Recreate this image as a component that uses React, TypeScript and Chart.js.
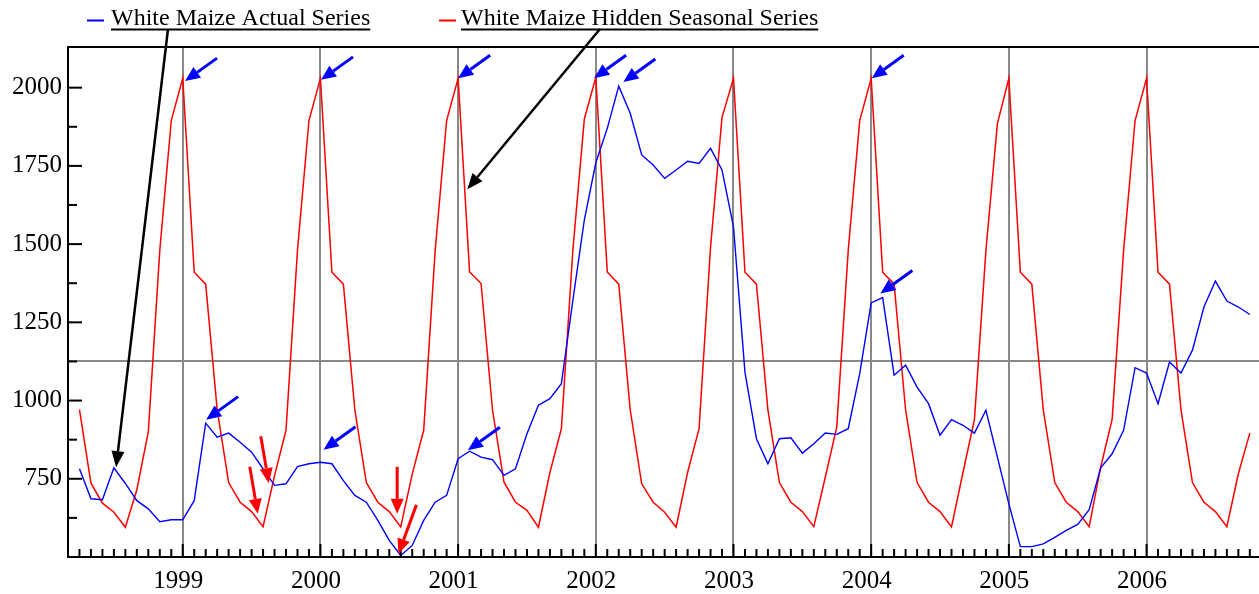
import React, { useEffect, useRef } from 'react';
import { Chart, registerables } from 'chart.js';

Chart.register(...registerables);

// Monthly observations: index 0 = April 1998, last = October 2006
const JAN_1999_INDEX = 9;

const actualSeries: number[] = [
  // 1998 Apr–Dec
  782, 686, 683, 785, 735, 680, 654, 613, 619,
  // 1999
  619, 680, 928, 883, 896, 867, 835, 782, 729, 734, 789, 798,
  // 2000
  803, 798, 744, 697, 675, 617, 553, 505, 537, 617, 675, 697,
  // 2001
  814, 838, 819, 811, 761, 782, 894, 985, 1006, 1054, 1320, 1577,
  // 2002
  1760, 1870, 2005, 1918, 1785, 1753, 1710, 1737, 1765, 1758, 1806, 1737,
  // 2003
  1555, 1090, 878, 798, 878, 881, 832, 862, 896, 892, 910, 1086,
  // 2004
  1312, 1329, 1081, 1113, 1043, 990, 889, 939, 921, 896, 969, 819,
  // 2005
  670, 533, 533, 542, 563, 585, 604, 651, 785, 830, 905, 1105,
  // 2006 Jan–Oct
  1088, 990, 1123, 1088, 1161, 1299, 1382, 1318, 1299, 1275,
];

const seasonalSeries: number[] = [
  // 1998 Apr–Dec
  971, 736, 672, 643, 595, 715, 900, 1480, 1895,
  // 1999
  2030, 1410, 1372, 972, 738, 675, 645, 597, 760, 905, 1480, 1895,
  // 2000
  2030, 1410, 1372, 970, 738, 675, 645, 596, 765, 905, 1480, 1895,
  // 2001
  2030, 1411, 1374, 969, 739, 675, 649, 595, 770, 910, 1480, 1900,
  // 2002
  2032, 1411, 1372, 970, 734, 675, 643, 595, 770, 910, 1490, 1905,
  // 2003
  2030, 1410, 1372, 970, 738, 675, 645, 597, 755, 915, 1480, 1895,
  // 2004
  2030, 1410, 1372, 970, 738, 675, 645, 596, 770, 940, 1480, 1885,
  // 2005
  2030, 1410, 1372, 970, 738, 675, 645, 597, 787, 940, 1480, 1895,
  // 2006 Jan–Oct
  2030, 1410, 1372, 970, 738, 675, 645, 597, 766, 896,
];

const yearLabels = ['1999', '2000', '2001', '2002', '2003', '2004', '2005', '2006'];
const yTickValues = [625, 750, 875, 1000, 1125, 1250, 1375, 1500, 1625, 1750, 1875, 2000];
const yLabelValues = [750, 1000, 1250, 1500, 1750, 2000];
const referenceLevel = 1125;

const legendItems = [
  { text: 'White Maize Actual Series', color: '#0000ff', lineX: 87, textX: 111 },
  { text: 'White Maize Hidden Seasonal Series', color: '#ff0000', lineX: 439, textX: 461 },
];

// Annotation arrows: tip in data units (month index, value), tail offset in px
const blueArrows = [
  { i: 9.2, v: 2021 }, { i: 21.05, v: 2025 }, { i: 33.0, v: 2030 }, { i: 44.85, v: 2030 },
  { i: 47.4, v: 2018 }, { i: 69.05, v: 2030 }, { i: 69.8, v: 1342 },
  { i: 11.04, v: 939 }, { i: 21.27, v: 843 }, { i: 33.85, v: 841 },
];
const redArrows = [
  { i: 16.5, v: 736, dx: -8, dy: -47 },
  { i: 15.54, v: 638, dx: -8, dy: -47 },
  { i: 27.69, v: 638, dx: 0, dy: -47 },
  { i: 27.8, v: 510, dx: 18, dy: -49 },
];
const blackArrows = [
  { i: 3.19, v: 787, fromX: 168, fromY: 29 },
  { i: 33.8, v: 1675, fromX: 600, fromY: 29 },
];

const FONT = '"Liberation Serif", "Times New Roman", serif';

const isJan = (v: number) => (v - JAN_1999_INDEX) % 12 === 0 && v >= JAN_1999_INDEX;

function drawArrow(ctx: CanvasRenderingContext2D, x1: number, y1: number, x2: number, y2: number,
  color: string, lw: number, headLen: number, headW: number) {
  const ang = Math.atan2(y2 - y1, x2 - x1);
  const bx = x2 - headLen * Math.cos(ang);
  const by = y2 - headLen * Math.sin(ang);
  ctx.strokeStyle = color;
  ctx.fillStyle = color;
  ctx.lineWidth = lw;
  ctx.beginPath();
  ctx.moveTo(x1, y1);
  ctx.lineTo(bx, by);
  ctx.stroke();
  ctx.beginPath();
  ctx.moveTo(x2, y2);
  ctx.lineTo(bx + (headW / 2) * Math.sin(ang), by - (headW / 2) * Math.cos(ang));
  ctx.lineTo(bx - (headW / 2) * Math.sin(ang), by + (headW / 2) * Math.cos(ang));
  ctx.closePath();
  ctx.fill();
}

const decorPlugin = {
  id: 'decor',
  afterDatasetsDraw(chart: any) {
    const { ctx, chartArea: a, scales } = chart;
    const x = scales.x;
    const y = scales.y;
    ctx.save();
    ctx.strokeStyle = '#000';
    ctx.lineWidth = 2;
    ctx.beginPath();
    ctx.moveTo(a.left - 1, a.top);
    ctx.lineTo(a.right, a.top);
    ctx.stroke();

    // inward tick marks
    y.ticks.forEach((t: any) => {
      if (t.value <= y.min) return;
      const py = y.getPixelForValue(t.value);
      const len = t.value % 250 === 0 ? 14 : 9;
      ctx.beginPath();
      ctx.moveTo(a.left, py);
      ctx.lineTo(a.left + len, py);
      ctx.stroke();
    });
    x.ticks.forEach((t: any) => {
      if (t.value <= x.min) return;
      const px = x.getPixelForValue(t.value);
      const len = isJan(t.value) ? 13 : 8;
      ctx.beginPath();
      ctx.moveTo(px, a.bottom);
      ctx.lineTo(px, a.bottom - len);
      ctx.stroke();
    });

    // arrows
    blueArrows.forEach((p) => {
      const tx = x.getPixelForValue(p.i);
      const ty = y.getPixelForValue(p.v);
      drawArrow(ctx, tx + 32, ty - 23, tx, ty, '#0000ff', 3, 15, 13);
    });
    redArrows.forEach((p) => {
      const tx = x.getPixelForValue(p.i);
      const ty = y.getPixelForValue(p.v);
      drawArrow(ctx, tx + p.dx, ty + p.dy, tx, ty, '#ff0000', 3, 15, 13);
    });
    blackArrows.forEach((p) => {
      const tx = x.getPixelForValue(p.i);
      const ty = y.getPixelForValue(p.v);
      drawArrow(ctx, p.fromX, p.fromY, tx, ty, '#000000', 2.5, 16, 13);
    });

    // legend
    ctx.font = `24px ${FONT}`;
    ctx.textBaseline = 'alphabetic';
    legendItems.forEach((item) => {
      ctx.strokeStyle = item.color;
      ctx.lineWidth = 2;
      ctx.beginPath();
      ctx.moveTo(item.lineX, 20.5);
      ctx.lineTo(item.lineX + 17, 20.5);
      ctx.stroke();
      ctx.fillStyle = '#000';
      ctx.fillText(item.text, item.textX, 25);
      const w = ctx.measureText(item.text).width;
      ctx.strokeStyle = '#000';
      ctx.beginPath();
      ctx.moveTo(item.textX, 29.5);
      ctx.lineTo(item.textX + w, 29.5);
      ctx.stroke();
    });
    ctx.restore();
  },
};

export default function App() {
  const ref = useRef<HTMLCanvasElement>(null);

  useEffect(() => {
    if (!ref.current) return;
    const toPoints = (arr: number[]) => arr.map((v, i) => ({ x: i, y: v }));
    const chart = new Chart(ref.current, {
      type: 'line',
      data: {
        datasets: [
          {
            label: legendItems[0].text,
            data: toPoints(actualSeries),
            borderColor: '#0000ff',
            borderWidth: 1.4,
            pointRadius: 0,
            tension: 0,
            fill: false,
          },
          {
            label: legendItems[1].text,
            data: toPoints(seasonalSeries),
            borderColor: '#ff0000',
            borderWidth: 1.5,
            pointRadius: 0,
            tension: 0,
            fill: false,
          },
        ],
      },
      options: {
        responsive: false,
        animation: false,
        events: [],
        layout: { padding: { top: 47, left: 0, right: 0, bottom: 0 } },
        plugins: { legend: { display: false }, tooltip: { enabled: false } },
        scales: {
          x: {
            type: 'linear',
            min: -1,
            max: 102.8,
            afterFit: (s: any) => { s.height = 37; },
            border: { display: true, color: '#000', width: 2 },
            grid: {
              drawTicks: false,
              lineWidth: 2,
              color: (c: any) => (c.tick && isJan(c.tick.value) ? '#888888' : 'rgba(0,0,0,0)'),
            },
            ticks: {
              stepSize: 1,
              autoSkip: false,
              maxRotation: 0,
              minRotation: 0,
              includeBounds: false,
              padding: 9,
              labelOffset: -4.5,
              color: '#000',
              font: { family: FONT, size: 25 },
              callback: (v: any) => {
                const n = Number(v);
                if (!isJan(n)) return '';
                return yearLabels[(n - JAN_1999_INDEX) / 12] ?? '';
              },
            },
          },
          y: {
            type: 'linear',
            min: 500,
            max: 2130,
            afterFit: (s: any) => { s.width = 68; },
            afterBuildTicks: (s: any) => { s.ticks = yTickValues.map((v) => ({ value: v })); },
            border: { display: true, color: '#000', width: 2 },
            grid: {
              drawTicks: false,
              lineWidth: 2,
              color: (c: any) => (c.tick && c.tick.value === referenceLevel ? '#888888' : 'rgba(0,0,0,0)'),
            },
            ticks: {
              autoSkip: false,
              padding: 6,
              color: '#000',
              font: { family: FONT, size: 25 },
              callback: (v: any) => (yLabelValues.includes(Number(v)) ? String(v) : ''),
            },
          },
        },
      },
      plugins: [decorPlugin],
    });
    return () => chart.destroy();
  }, []);

  return (
    <div style={{ position: 'absolute', left: 0, top: 0, width: 1259, height: 594, background: '#fff' }}>
      <canvas ref={ref} width={1259} height={594} style={{ display: 'block' }} />
    </div>
  );
}
